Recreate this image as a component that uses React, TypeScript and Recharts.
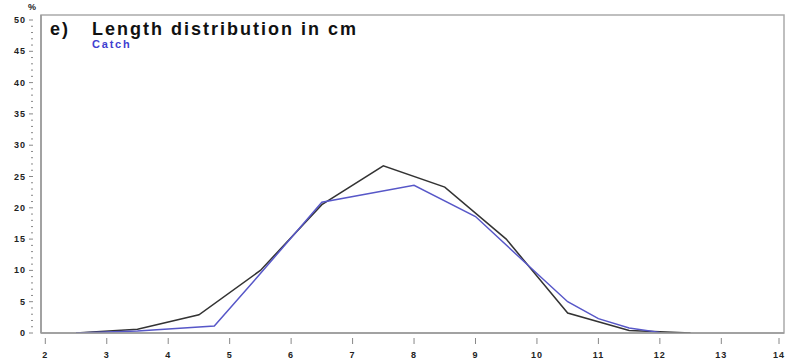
import React from 'react';
import { LineChart, Line, XAxis, YAxis, ReferenceArea } from 'recharts';

const xTicks = [2, 3, 4, 5, 6, 7, 8, 9, 10, 11, 12, 13, 14];
const yTicks = [0, 1, 2, 3, 4, 5, 6, 7, 8, 9, 10, 11, 12, 13, 14, 15, 16, 17, 18, 19, 20, 21, 22, 23, 24, 25, 26, 27, 28, 29, 30, 31, 32, 33, 34, 35, 36, 37, 38, 39, 40, 41, 42, 43, 44, 45, 46, 47, 48, 49, 50];

const totalLength = [2.5, 3.5, 4.5, 5.5, 6.5, 7.5, 8.5, 9.5, 10.5, 11.5, 12.5];
const totalPct = [0, 0.6, 2.9, 10, 20.5, 26.7, 23.3, 15, 3.2, 0.4, 0];

const catchLength = [2.5, 3.5, 4.75, 5.5, 6.5, 8, 9, 10, 10.5, 11, 11.5, 12];
const catchPct = [0, 0.3, 1.1, 9.5, 20.9, 23.6, 18.6, 9.5, 5, 2.3, 0.8, 0.1];

const totalData = totalLength.map((x, i) => ({ x, y: totalPct[i] }));
const catchData = catchLength.map((x, i) => ({ x, y: catchPct[i] }));

const font = '"Liberation Sans", Arial, sans-serif';

const YTick = (props: any) => {
  const { x, y, payload } = props;
  const major = payload.value % 5 === 0;
  return (
    <g>
      <line x1={x + (major ? -4 : -2)} x2={x} y1={y} y2={y} stroke="#888" strokeWidth={1} />
      {major && (
        <text x={x - 7} y={y + 3} textAnchor="end" fontSize={9} fontWeight="bold" fontFamily={font} fill="#222" letterSpacing={1}>
          {payload.value}
        </text>
      )}
    </g>
  );
};

const XTick = (props: any) => {
  const { x, y, payload } = props;
  return (
    <g>
      <line x1={x} x2={x} y1={y - 3} y2={y + 3} stroke="#888" strokeWidth={1} />
      <text x={x} y={y + 17} textAnchor="middle" fontSize={9} fontWeight="bold" fontFamily={font} fill="#222" letterSpacing={1}>
        {payload.value}
      </text>
    </g>
  );
};

export default function App() {
  return (
    <div style={{ position: 'absolute', left: 0, top: 0, width: 787, height: 360, background: '#fff' }}>
      <LineChart width={787} height={360} margin={{ top: 15, right: 3, bottom: 0, left: 0 }}>
        <XAxis
          type="number"
          dataKey="x"
          domain={[1.93, 14.02]}
          ticks={xTicks}
          tick={<XTick />}
          tickLine={false}
          axisLine={{ stroke: '#999', strokeWidth: 1.5 }}
          height={27}
          allowDataOverflow
        />
        <YAxis
          type="number"
          dataKey="y"
          domain={[0, 50.8]}
          ticks={yTicks}
          tick={<YTick />}
          tickLine={false}
          interval={0}
          axisLine={{ stroke: '#999', strokeWidth: 1.5 }}
          width={41}
          allowDataOverflow
        />
        <ReferenceArea x1={1.93} x2={14.02} y1={0} y2={50.8} fill="none" stroke="#aaa" strokeWidth={1.5} ifOverflow="visible" />
        <Line data={totalData} dataKey="y" type="linear" stroke="#333" strokeWidth={1.5} dot={false} isAnimationActive={false} />
        <Line data={catchData} dataKey="y" type="linear" stroke="#5757c8" strokeWidth={1.5} dot={false} isAnimationActive={false} />
      </LineChart>
      <div style={{ position: 'absolute', left: 28, top: 2, fontFamily: font, fontSize: 9, fontWeight: 'bold', color: '#222' }}>%</div>
      <div style={{ position: 'absolute', left: 50, top: 19, fontFamily: font, fontSize: 18, color: '#111', fontWeight: 'bold', letterSpacing: 2 }}>
        e)
      </div>
      <div style={{ position: 'absolute', left: 92, top: 19, fontFamily: font, fontSize: 18, color: '#111', fontWeight: 'bold', letterSpacing: 2, whiteSpace: 'pre' }}>
        Length distribution in cm
      </div>
      <div style={{ position: 'absolute', left: 92, top: 38, fontFamily: font, fontSize: 11, fontWeight: 'bold', color: '#4040d0', letterSpacing: 1.8 }}>Catch</div>
    </div>
  );
}
